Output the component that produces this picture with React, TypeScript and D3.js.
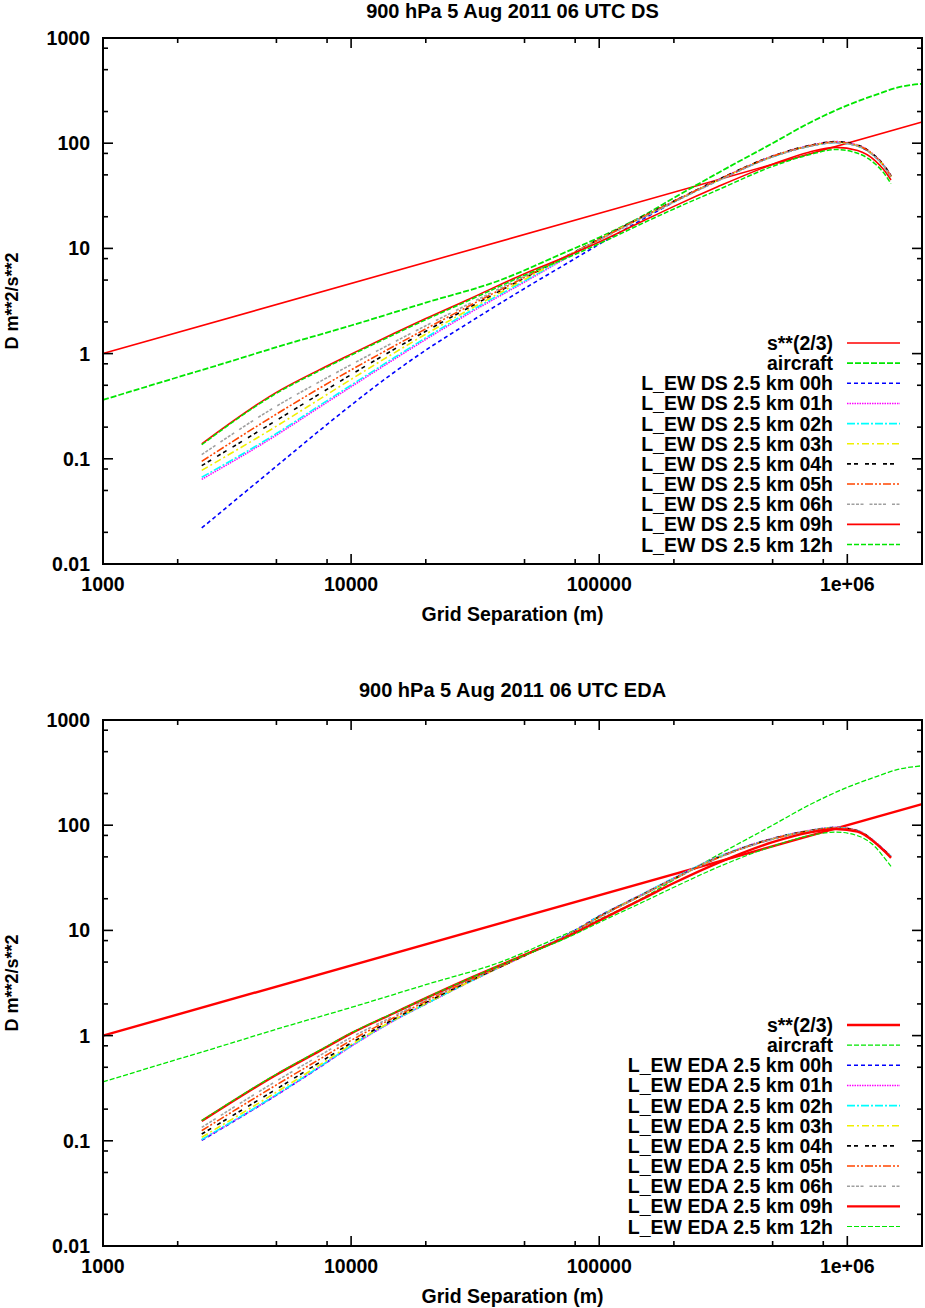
import React from 'react';
import * as d3 from 'd3';

// grid separations (m) at which the model structure functions are given
const SEP = [
  2500, 5000, 7500, 10000, 15000, 20000, 30000, 50000, 75000, 100000,
  150000, 200000, 300000, 500000, 700000, 900000, 1100000, 1300000, 1400000, 1500000,
];

// reference curves
const POWER_SEP = [1000, 2000000];
const POWER_D = [1, 158.7];
const AIRCRAFT_SEP = [
  1000, 2000, 3000, 5000, 10000, 20000, 40000, 70000, 100000, 150000,
  200000, 300000, 500000, 700000, 1000000, 1300000, 1600000, 2000000,
];
const AIRCRAFT_D = [
  0.363, 0.596, 0.794, 1.15, 1.85, 3.05, 5.0, 8.8, 12.7, 20.4,
  30.2, 51.9, 100, 155, 229, 288, 339, 367,
];

// DS run, lead times 00h ... 12h
const DS_00 = [0.022, 0.0851, 0.1875, 0.3236, 0.6714, 1.079, 1.982, 4.159, 7.328, 10.96, 18.97, 27.54, 43.95, 74.47, 93.54, 101.6, 94.19, 73.79, 61.24, 47.75];
const DS_01 = [0.0638, 0.1679, 0.3126, 0.4842, 0.8913, 1.365, 2.427, 4.786, 8.318, 12.16, 19.95, 27.99, 44.67, 75.51, 94.84, 103.5, 95.94, 74.99, 62.37, 48.98];
const DS_02 = [0.0667, 0.1738, 0.3236, 0.5012, 0.9226, 1.413, 2.512, 4.898, 8.414, 12.16, 19.86, 27.73, 44.16, 74.47, 93.54, 101.6, 94.19, 73.79, 61.24, 47.75];
const DS_03 = [0.0776, 0.2042, 0.3715, 0.5689, 1.023, 1.531, 2.63, 5.07, 8.511, 12.22, 19.95, 27.86, 44.36, 74.82, 93.97, 102.3, 94.84, 74.3, 61.66, 48.19];
const DS_04 = [0.0861, 0.2317, 0.4169, 0.631, 1.109, 1.633, 2.754, 5.248, 8.61, 12.25, 20.09, 28.18, 44.87, 75.51, 94.84, 103.5, 95.94, 74.99, 62.37, 48.98];
const DS_05 = [0.0946, 0.266, 0.473, 0.6998, 1.189, 1.718, 2.851, 5.309, 8.61, 12.16, 19.95, 27.99, 44.46, 74.99, 93.97, 102.3, 95.06, 74.3, 61.66, 48.31];
const DS_06 = [0.1096, 0.3162, 0.5433, 0.7852, 1.297, 1.841, 2.985, 5.433, 8.61, 12.02, 19.5, 27.54, 43.65, 74.13, 92.9, 101.2, 93.97, 73.45, 60.95, 47.53];
const DS_09 = [0.1387, 0.4285, 0.708, 0.989, 1.567, 2.153, 3.311, 5.754, 8.511, 11.48, 18.2, 25.1, 38.5, 63.1, 82.2, 91.2, 85.1, 67.6, 56.2, 44.7];
const DS_12 = [0.136, 0.419, 0.692, 0.966, 1.531, 2.099, 3.221, 5.559, 8.222, 11.09, 17.38, 23.71, 35.89, 60.26, 77.62, 87.1, 80.35, 63.1, 52.48, 41.21];

// EDA run, lead times 00h ... 12h
const EDA_00 = [0.101, 0.272, 0.505, 0.8, 1.41, 2.0, 3.25, 5.8, 9.2, 13.7, 22, 31.2, 49.2, 74, 88, 94.4, 88, 68, 58, 50];
const EDA_01 = [0.102, 0.272, 0.505, 0.79, 1.4, 2.0, 3.24, 5.75, 9.1, 13.6, 22.3, 31.5, 49.8, 75, 89, 95.5, 89, 69, 59, 51];
const EDA_02 = [0.103, 0.275, 0.51, 0.8, 1.41, 2.0, 3.25, 5.8, 9.1, 13.6, 22.2, 31.4, 49.5, 74.5, 88.5, 95, 88.5, 68.5, 58.5, 50.5];
const EDA_03 = [0.108, 0.29, 0.53, 0.82, 1.42, 2.02, 3.25, 5.75, 9.1, 13.5, 22, 31, 49, 74, 88, 94.5, 88, 68, 58, 50];
const EDA_04 = [0.116, 0.31, 0.56, 0.85, 1.45, 2.06, 3.3, 5.75, 9.0, 13.5, 22, 31, 49, 74.5, 88.5, 95, 88.5, 68.5, 58.5, 50.5];
const EDA_05 = [0.125, 0.34, 0.6, 0.9, 1.5, 2.12, 3.35, 5.8, 9.0, 13.4, 21.8, 30.8, 48.8, 74, 88, 94.4, 88, 68, 58, 50];
const EDA_06 = [0.134, 0.37, 0.65, 0.96, 1.55, 2.18, 3.4, 5.8, 9.0, 13.2, 21.8, 30.8, 48.5, 73.5, 87.5, 94, 87.5, 67.5, 57.5, 49.5];
const EDA_09 = [0.154, 0.425, 0.72, 1.05, 1.65, 2.27, 3.5, 5.85, 8.8, 12.4, 20, 28.2, 43.7, 69, 85, 92, 87, 67.6, 57.5, 49];
const EDA_12 = [0.156, 0.43, 0.73, 1.06, 1.66, 2.28, 3.5, 5.8, 8.6, 11.9, 18.6, 25.7, 39.8, 63, 79.4, 86, 79.4, 61.7, 50, 40.7];

const LEAD_TIMES = ['00h', '01h', '02h', '03h', '04h', '05h', '06h', '09h', '12h'];

const X_MAJOR = [1000, 10000, 100000, 1000000];
const X_LABELS = ['1000', '10000', '100000', '1e+06'];
const Y_MAJOR = [0.01, 0.1, 1, 10, 100, 1000];
const Y_LABELS = ['0.01', '0.1', '1', '10', '100', '1000'];
const MINOR_STEPS = [2, 5, 8];

const FONT = '"Liberation Sans", Arial, Helvetica, sans-serif';

interface Series {
  label: string;
  x: number[];
  y: number[];
  color: string;
  dash?: string;
  width: number;
}

// line styles of the lead-time curves (00h .. 12h)
const STYLES = [
  { color: '#0000ff', dash: '4,3' },
  { color: '#ff00ff', dash: '1.5,1' },
  { color: '#00ffff', dash: '8,2,2,2' },
  { color: '#f0f000', dash: '7,3,2,3' },
  { color: '#000000', dash: '4,3,4,7' },
  { color: '#ff4500', dash: '8,2,2,2,2,2' },
  { color: '#a0a0a0', dash: '3,1.5,3,1.5,3,1.5,3,6' },
  { color: '#ff0000', dash: undefined },
  { color: '#00e600', dash: '5,2' },
];

function buildSeries(run: string, values: number[][], thick: boolean): Series[] {
  const out: Series[] = [
    { label: 's**(2/3)', x: POWER_SEP, y: POWER_D, color: '#ff0000', width: thick ? 2.4 : 1.6 },
    { label: 'aircraft', x: AIRCRAFT_SEP, y: AIRCRAFT_D, color: '#00e600', dash: thick ? '5,2' : '6,2', width: thick ? 1.3 : 1.8 },
  ];
  values.forEach((v, i) => {
    const s = STYLES[i];
    let width = 1.6;
    if (i === 7 && thick) width = 2.4;
    if (i === 8) width = thick ? 1.2 : 1.5;
    out.push({ label: `L_EW ${run} 2.5 km ${LEAD_TIMES[i]}`, x: SEP, y: v, color: s.color, dash: s.dash, width });
  });
  return out;
}

const DS_SERIES = buildSeries('DS', [DS_00, DS_01, DS_02, DS_03, DS_04, DS_05, DS_06, DS_09, DS_12], false);
const EDA_SERIES = buildSeries('EDA', [EDA_00, EDA_01, EDA_02, EDA_03, EDA_04, EDA_05, EDA_06, EDA_09, EDA_12], true);

const Panel: React.FC<{ top: number; title: string; titleY: number; series: Series[] }> = ({ top, title, titleY, series }) => {
  const left = 103;
  const right = 922;
  const bottom = top + 526;
  const x = d3.scaleLog().domain([1000, 2000000]).range([left, right]);
  const y = d3.scaleLog().domain([0.01, 1000]).range([bottom, top]);

  const line = d3.line<[number, number]>()
    .x(d => x(d[0]))
    .y(d => y(d[1]))
    .curve(d3.curveMonotoneX);

  const xMinor = X_MAJOR.flatMap(m => MINOR_STEPS.map(k => m * k)).filter(v => v < 2000000);
  const yMinor = Y_MAJOR.flatMap(m => MINOR_STEPS.map(k => m * k)).filter(v => v < 1000);

  const fontProps = { fontFamily: FONT, fontWeight: 'bold' as const, fontSize: 19.5, fill: '#000' };

  return (
    <g>
      <text x={(left + right) / 2} y={titleY} textAnchor="middle" {...fontProps} fontSize={20}>{title}</text>

      {series.map((s, i) => (
        <path
          key={i}
          d={line(s.x.map((v, j) => [v, s.y[j]] as [number, number])) || ''}
          fill="none"
          stroke={s.color}
          strokeWidth={s.width}
          strokeDasharray={s.dash}
        />
      ))}

      {/* ticks, mirrored on all four sides */}
      <g stroke="#000" strokeWidth={1.6}>
        {X_MAJOR.map(v => (
          <g key={`xM${v}`}>
            <line x1={x(v)} x2={x(v)} y1={bottom} y2={bottom - 10} />
            <line x1={x(v)} x2={x(v)} y1={top} y2={top + 10} />
          </g>
        ))}
        {xMinor.map(v => (
          <g key={`xm${v}`}>
            <line x1={x(v)} x2={x(v)} y1={bottom} y2={bottom - 5} />
            <line x1={x(v)} x2={x(v)} y1={top} y2={top + 5} />
          </g>
        ))}
        {Y_MAJOR.map(v => (
          <g key={`yM${v}`}>
            <line x1={left} x2={left + 10} y1={y(v)} y2={y(v)} />
            <line x1={right} x2={right - 10} y1={y(v)} y2={y(v)} />
          </g>
        ))}
        {yMinor.map(v => (
          <g key={`ym${v}`}>
            <line x1={left} x2={left + 5} y1={y(v)} y2={y(v)} />
            <line x1={right} x2={right - 5} y1={y(v)} y2={y(v)} />
          </g>
        ))}
      </g>

      <rect x={left} y={top} width={right - left} height={bottom - top} fill="none" stroke="#000" strokeWidth={2} />

      {X_MAJOR.map((v, i) => (
        <text key={`xl${v}`} x={x(v)} y={bottom + 27} textAnchor="middle" {...fontProps}>{X_LABELS[i]}</text>
      ))}
      {Y_MAJOR.map((v, i) => (
        <text key={`yl${v}`} x={90} y={y(v) + 7} textAnchor="end" {...fontProps}>{Y_LABELS[i]}</text>
      ))}

      <text x={(left + right) / 2} y={bottom + 57} textAnchor="middle" {...fontProps}>Grid Separation (m)</text>
      <text transform={`translate(17.5,${(top + bottom) / 2}) rotate(-90)`} textAnchor="middle" {...fontProps} fontSize={18}>D m**2/s**2</text>

      {/* legend */}
      {series.map((s, i) => {
        const ly = top + 305 + i * 20.15;
        return (
          <g key={`lg${i}`}>
            <text x={833} y={ly + 7} textAnchor="end" {...fontProps}>{s.label}</text>
            <line x1={847} x2={900} y1={ly} y2={ly} stroke={s.color} strokeWidth={s.width} strokeDasharray={s.dash} />
          </g>
        );
      })}
    </g>
  );
};

export default function App() {
  return (
    <svg
      width={925}
      height={1308}
      viewBox="0 0 925 1308"
      style={{ position: 'absolute', left: 0, top: 0, background: '#fff' }}
    >
      <rect width={925} height={1308} fill="#fff" />
      <Panel top={38} titleY={18} title="900 hPa 5 Aug 2011 06 UTC DS" series={DS_SERIES} />
      <Panel top={720} titleY={697} title="900 hPa 5 Aug 2011 06 UTC EDA" series={EDA_SERIES} />
    </svg>
  );
}
